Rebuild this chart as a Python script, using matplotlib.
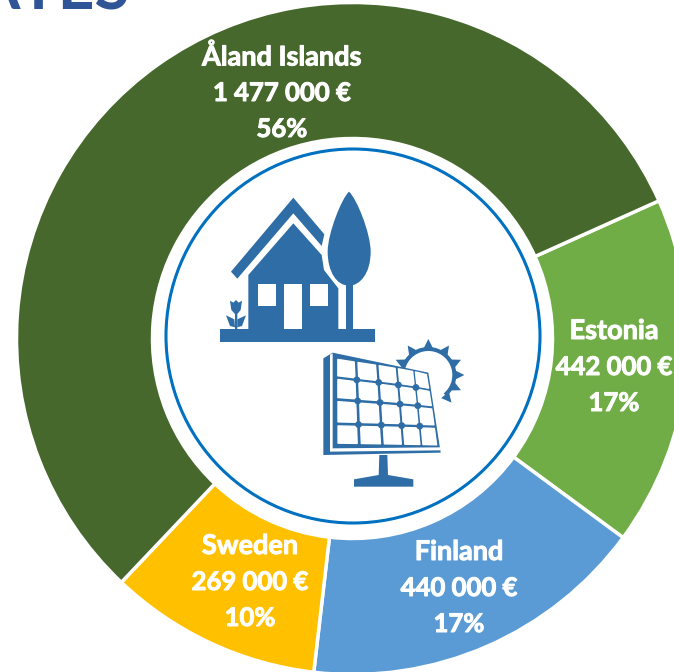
import numpy as np
import matplotlib
matplotlib.use('Agg')
import matplotlib.pyplot as plt
import matplotlib.patheffects as pe
from matplotlib.patches import Polygon, Circle, PathPatch, Wedge
from matplotlib.path import Path

# datos del grafico
countries = ['Estonia', 'Finland', 'Sweden', 'Åland Islands']
amounts = [442000, 440000, 269000, 1477000]
amount_labels = ['442 000 €', '440 000 €', '269 000 €', '1 477 000 €']
percents = ['17%', '17%', '10%', '56%']
colors = ['#70AD47', '#5B9BD5', '#FFC000', '#46682C']
label_pos = [(614, 367), (459, 588), (250, 582), (282, 93)]

ICON = '#2E6DA5'
plt.rcParams['font.family'] = ['Lato', 'DejaVu Sans']

fig = plt.figure(figsize=(6.74, 6.72), dpi=100)
ax = fig.add_axes([0, 0, 1, 1])

# y invertido: angulos crecen en sentido horario
ax.pie(amounts, colors=colors, startangle=-24.2, center=(352.5, 338.5), radius=336,
       wedgeprops=dict(width=136, edgecolor='white', linewidth=2.5))
ax.set_xlim(0, 674)
ax.set_ylim(672, 0)
ax.axis('off')

ax.add_patch(Circle((353, 336), 187, fc='white', ec='#0070C0', lw=2.2))

grueso = [pe.withStroke(linewidth=0.7, foreground='white')]
for name, lab, pct, (x, y) in zip(countries, amount_labels, percents, label_pos):
    for txt, dy, fs in [(name, -36, 19.5), (lab, 0, 18.5), (pct, 36, 18.5)]:
        ax.text(x, y + dy, txt, color='white', fontsize=fs, fontweight='bold',
                ha='center', va='center', path_effects=grueso)

# titulo cortado arriba
ax.text(-25, 10, 'ATES', color='#2F5597', fontsize=46, fontweight='bold', ha='left', va='baseline')


# icono casa
def casa(pts):
    return [(200 + x / 3, 170 + y / 3) for x, y in pts]


def poly(pts, c=ICON, z=3):
    ax.add_patch(Polygon(pts, closed=True, fc=c, ec='none', zorder=z))


poly(casa([(93, 305), (280, 83), (373, 193), (365, 228), (280, 130), (112, 326)]))
poly(casa([(145, 315), (280, 160), (365, 255), (372, 300), (415, 355), (415, 478), (145, 478)]))
for r in [(175, 342, 227, 407), (253, 342, 305, 478), (331, 342, 384, 407)]:
    poly(casa([(r[0], r[1]), (r[2], r[1]), (r[2], r[3]), (r[0], r[3])]), 'white', 4)
poly(casa([(60, 478), (525, 478), (525, 517), (60, 517)]))
poly(casa([(437, 340), (458, 340), (458, 478), (437, 478)]))
tree = casa([(447, 65), (470, 85), (512, 190), (512, 245), (512, 310), (480, 347), (447, 347),
             (410, 347), (383, 305), (383, 245), (383, 190), (425, 85), (447, 65)])
codes = [Path.MOVETO] + [Path.CURVE4] * 12
ax.add_patch(PathPatch(Path(tree, codes), fc=ICON, ec='none', zorder=3))
# tulipan
poly(casa([(90, 392), (100, 398), (108, 390), (116, 398), (126, 392), (122, 420), (112, 432), (112, 478),
           (105, 478), (105, 432), (94, 420)]))
poly(casa([(78, 436), (103, 448), (105, 472), (90, 468)]))
poly(casa([(138, 436), (112, 448), (112, 472), (126, 468)]))


# icono panel solar
def panel(pts):
    return [(310 + x / 3, 330 + y / 3) for x, y in pts]


sx, sy = panel([(355, 135)])[0]
ax.add_patch(Wedge((sx, sy), 28, -205, 50, width=4, fc=ICON, ec='none', zorder=3))
for ang in [-155, -125, -90, -55, -25, 0, 25, 50]:
    a = np.radians(ang)
    d = np.array([np.cos(a), np.sin(a)])
    n = np.array([-d[1], d[0]])
    c = np.array([sx, sy])
    poly([c + d * 26 + n * 5, c + d * 36, c + d * 26 - n * 5])

poly(panel([(40, 85), (68, 68), (355, 128), (392, 368), (40, 375)]))
poly(panel([(60, 74), (68, 70), (68, 355), (390, 352), (391, 361), (60, 365)]), 'white', 4)
# celdas
xs_top = [78, 138, 202, 260, 312, 352]
xs_bot = [78, 148, 218, 280, 335, 385]
ys_left = [82, 142, 208, 282, 345]
ys_right = [130, 180, 232, 290, 350]


def cell_pt(i, j):
    t = j / 4
    x = xs_top[i] * (1 - t) + xs_bot[i] * t
    s = i / 5
    y = ys_left[j] * (1 - s) + ys_right[j] * s
    return x, y


for i in range(5):
    for j in range(4):
        p = [cell_pt(i, j), cell_pt(i + 1, j), cell_pt(i + 1, j + 1), cell_pt(i, j + 1)]
        c = np.mean(p, axis=0)
        p = [c + (np.array(q) - c) * 0.82 for q in p]
        ax.add_patch(Polygon(panel(p), closed=True, fc='white', ec='white', lw=1.0, joinstyle='round', zorder=4))
for i in range(1, 5):
    for j in range(1, 4):
        ax.add_patch(Circle(panel([cell_pt(i, j)])[0], 3.4, fc=ICON, ec='none', zorder=5))
poly(panel([(208, 375), (232, 375), (234, 435), (310, 448), (310, 470), (132, 470), (132, 448), (206, 435)]))

fig.savefig('out.png', dpi=100)
